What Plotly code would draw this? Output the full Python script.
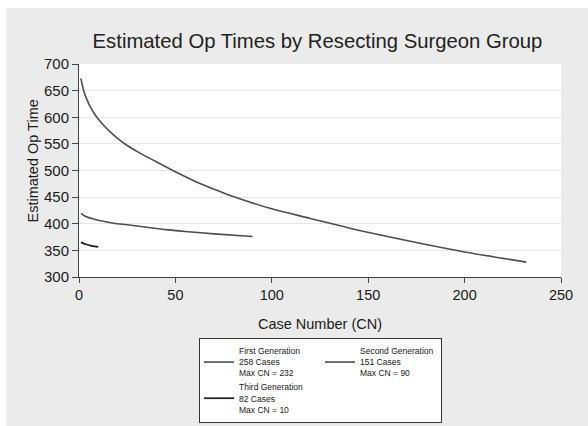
import plotly.graph_objects as go

# Estimated operative time curves by surgeon generation
first_cn = [1, 2, 3, 4, 6, 8, 10, 13, 16, 20, 25, 30, 35, 40, 50, 60, 70, 80,
            100, 120, 140, 160, 180, 200, 220, 232]
first_time = [673, 656, 643.5, 634, 618.5, 606.5, 596.5, 584, 573, 560.5, 547, 536, 526, 516.5,
              497.5, 480, 465, 451, 428, 410, 392, 376, 361, 347, 335, 328]

second_cn = [1, 3, 5, 8, 12, 18, 25, 35, 45, 55, 70, 90]
second_time = [419.5, 414.5, 411.5, 408.5, 405, 401, 398, 393.5, 389, 385.5, 381, 376]

third_cn = [1, 3, 5, 7, 10]
third_time = [365, 362, 360, 358, 356.5]

names = [
    "First Generation<br>258 Cases<br>Max CN = 232",
    "Second Generation<br>151 Cases<br>Max CN = 90",
    "Third Generation<br>82 Cases<br>Max CN = 10",
]

x_ticks = [0, 50, 100, 150, 200, 250]
y_ticks = [300, 350, 400, 450, 500, 550, 600, 650, 700]

FONT = "Liberation Sans, Arial, sans-serif"

fig = go.Figure()
fig.add_trace(go.Scatter(x=first_cn, y=first_time, mode="lines", name=names[0],
                         legendgroup="a", line=dict(color="#4f4f4f", width=1.6, shape="spline",
                                                    smoothing=0.8)))
fig.add_trace(go.Scatter(x=second_cn, y=second_time, mode="lines", name=names[1],
                         legendgroup="b", line=dict(color="#4f4f4f", width=1.6, shape="spline",
                                                    smoothing=0.8)))
fig.add_trace(go.Scatter(x=third_cn, y=third_time, mode="lines", name=names[2],
                         legendgroup="a", line=dict(color="#1e1e1e", width=1.7, shape="spline",
                                                    smoothing=0.8)))

L, R, T, B = 79, 27, 64, 149
W, H = 588, 426
pw, ph = W - L - R, H - T - B


def px_x(p):
    return (p - L) / pw


def px_y(p):
    return (H - B - p) / ph


fig.update_layout(
    width=W, height=H,
    margin=dict(l=L, r=R, t=T, b=B, autoexpand=False),
    paper_bgcolor="#ebebeb",
    plot_bgcolor="#ffffff",
    font=dict(family=FONT, color="#1a1a1a"),
    title=dict(text="Estimated Op Times by Resecting Surgeon Group",
               x=px_x(317.5), xref="paper", xanchor="center",
               y=1 - 41 / H, yref="container", yanchor="middle",
               font=dict(size=20.3, color="#222222", family=FONT)),
    xaxis=dict(range=[0, 250], tickvals=x_ticks, showgrid=False, zeroline=False,
               showline=True, linecolor="#444444", linewidth=1,
               ticks="outside", ticklen=5, tickcolor="#444444",
               tickfont=dict(size=14.5),
               title=dict(text="Case Number (CN)", font=dict(size=14.5), standoff=16)),
    yaxis=dict(range=[300, 700], tickvals=y_ticks, showgrid=True, gridcolor="#e8e8e8",
               zeroline=False, showline=True, linecolor="#444444", linewidth=1,
               ticks="outside", ticklen=6, tickcolor="#444444",
               tickfont=dict(size=15)),
    legend=dict(orientation="h", traceorder="grouped",
                xref="container", yref="container",
                x=199 / W, xanchor="left", y=1 - 338 / H, yanchor="top",
                bgcolor="#ffffff", bordercolor="#333333", borderwidth=1,
                font=dict(size=8.5, family=FONT), entrywidth=76, tracegroupgap=0),
    showlegend=True,
)

# y-axis title
fig.add_annotation(text="Estimated Op Time", textangle=-90, showarrow=False,
                   xref="paper", yref="paper", x=px_x(32), y=px_y(161.5),
                   xanchor="center", yanchor="middle", font=dict(size=14.5, family=FONT))

# white frame strips along the top and left edges of the canvas
fig.add_shape(type="rect", xref="paper", yref="paper", line_width=0, fillcolor="#ffffff",
              x0=px_x(0), x1=px_x(W), y0=px_y(8), y1=px_y(0), layer="below")
fig.add_shape(type="rect", xref="paper", yref="paper", line_width=0, fillcolor="#ffffff",
              x0=px_x(0), x1=px_x(6), y0=px_y(H), y1=px_y(0), layer="below")

fig.write_html("out.html")
